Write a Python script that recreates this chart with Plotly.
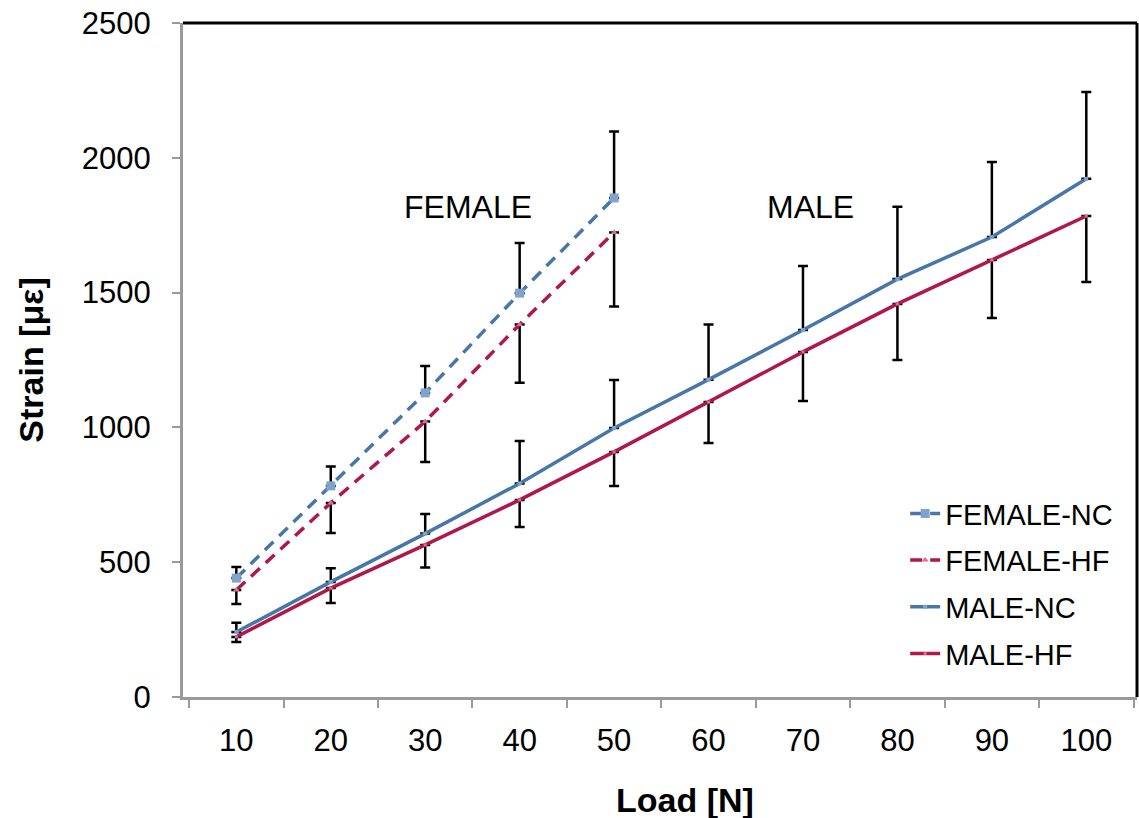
import plotly.graph_objects as go

loads = ["10", "20", "30", "40", "50", "60", "70", "80", "90", "100"]
female_loads = loads[:5]

female_nc = [441, 783, 1128, 1498, 1851]
female_nc_err = [41, 72, 100, 186, 247]
female_hf = [397, 720, 1022, 1382, 1723]
female_hf_err = [52, 112, 150, 216, 275]

male_nc = [241, 427, 606, 792, 998, 1177, 1361, 1550, 1706, 1922]
male_nc_err = [34, 51, 73, 158, 178, 205, 238, 268, 278, 322]
male_hf = [223, 404, 564, 731, 909, 1094, 1280, 1458, 1621, 1784]
male_hf_err = [19, 55, 84, 100, 126, 152, 182, 208, 215, 245]

BLUE = "#4677A8"
RED = "#B0174A"
FONT = "Liberation Sans, Arial, sans-serif"

fig = go.Figure()

def err(vals, up=True):
    zeros = [0] * len(vals)
    return dict(type="data", symmetric=False,
                array=vals if up else zeros,
                arrayminus=zeros if up else vals,
                color="black", thickness=2.5, width=5)

fig.add_trace(go.Scatter(
    x=female_loads, y=female_nc, name="FEMALE-NC", legendgroup="a",
    mode="lines+markers",
    line=dict(color=BLUE, width=3.5, dash="12px,8px"),
    marker=dict(symbol="square", size=9, color="#7FA3CB"),
    error_y=err(female_nc_err, True)))
fig.add_trace(go.Scatter(
    x=female_loads, y=female_hf, name="FEMALE-HF", legendgroup="b",
    mode="lines+markers",
    line=dict(color=RED, width=3.5, dash="12px,8px"),
    marker=dict(symbol="triangle-up", size=6, color="#D2708F"),
    error_y=err(female_hf_err, False)))
fig.add_trace(go.Scatter(
    x=loads, y=male_nc, name="MALE-NC", legendgroup="c",
    mode="lines+markers",
    line=dict(color=BLUE, width=3.5),
    marker=dict(symbol="square", size=4, color="#7FA3CB"),
    error_y=err(male_nc_err, True)))
fig.add_trace(go.Scatter(
    x=loads, y=male_hf, name="MALE-HF", legendgroup="d",
    mode="lines+markers",
    line=dict(color=RED, width=3.5),
    marker=dict(symbol="square", size=3, color="#D2708F"),
    error_y=err(male_hf_err, False)))

fig.update_layout(
    width=1139, height=818,
    margin=dict(l=183, r=2, t=23, b=121),
    paper_bgcolor="white", plot_bgcolor="white",
    font=dict(family=FONT, color="black", size=30),
    showlegend=True,
    legend=dict(x=0.757, y=0.31, xanchor="left", yanchor="top",
                font=dict(size=29), tracegroupgap=6,
                traceorder="grouped", bgcolor="rgba(0,0,0,0)"),
    xaxis=dict(type="category", categoryorder="array", categoryarray=loads,
               tickson="boundaries", ticks="outside", ticklen=8, tickwidth=2,
               tickcolor="#9A9A9A", showline=True, linecolor="#9A9A9A",
               linewidth=3, showgrid=False, zeroline=False,
               tickfont=dict(size=31), ticklabelstandoff=14),
    yaxis=dict(range=[0, 2500], tickvals=[0, 500, 1000, 1500, 2000, 2500],
               ticks="outside", ticklen=8, tickwidth=2, tickcolor="#9A9A9A",
               showline=True, linecolor="#9A9A9A", linewidth=3,
               showgrid=False, zeroline=False,
               tickfont=dict(size=31), ticklabelstandoff=15,
               title=dict(text="<b>Strain [με]</b>", font=dict(size=34),
                          standoff=28)),
    shapes=[
        dict(type="line", xref="paper", yref="paper", x0=0, x1=1, y0=1, y1=1,
             line=dict(color="black", width=3)),
        dict(type="line", xref="paper", yref="paper", x0=1, x1=1, y0=0, y1=1,
             line=dict(color="black", width=3)),
    ],
    annotations=[
        dict(text="FEMALE", xref="paper", yref="y", x=0.299, y=1817,
             xanchor="center", yanchor="middle",
             showarrow=False, font=dict(size=32)),
        dict(text="MALE", xref="paper", yref="y", x=0.658, y=1817,
             xanchor="center", yanchor="middle",
             showarrow=False, font=dict(size=32)),
        dict(text="<b>Load [N]</b>", xref="paper", yref="paper", x=0.526,
             y=-0.153, xanchor="center", yanchor="middle",
             showarrow=False, font=dict(size=34)),
    ],
)

fig.write_html("out.html")
